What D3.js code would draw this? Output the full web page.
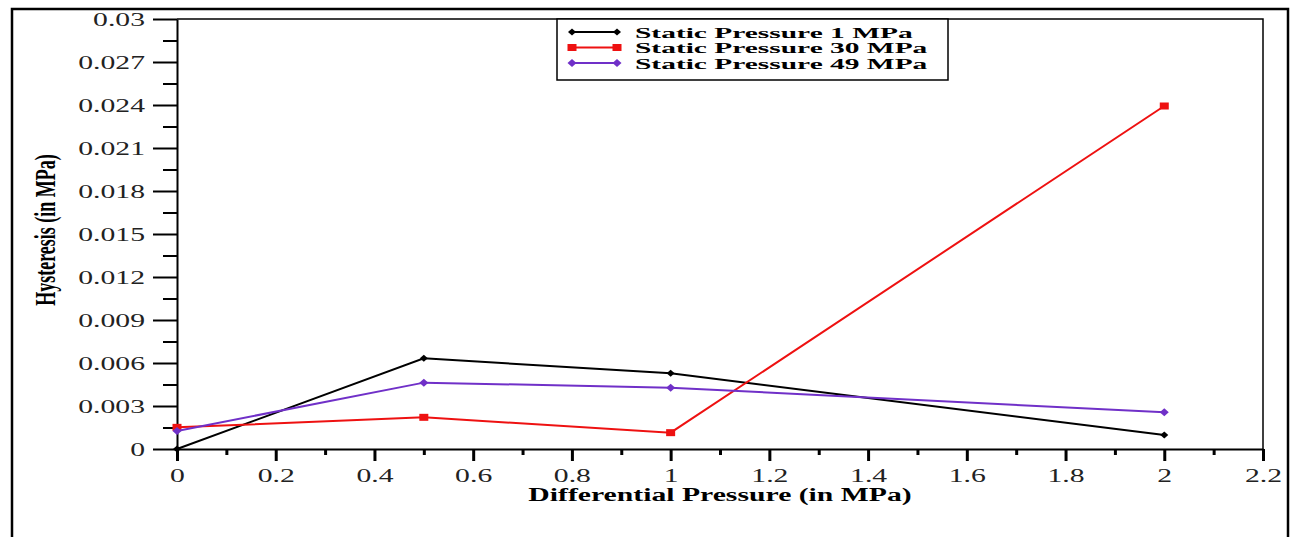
<!DOCTYPE html>
<html>
<head>
<meta charset="utf-8">
<script src="https://cdn.jsdelivr.net/npm/d3@7"></script>
<style>
  html, body { margin: 0; padding: 0; background: #fff; }
  svg { display: block; }
</style>
</head>
<body>
<svg id="chart" width="1296" height="537"></svg>
<script>
const width = 1296;
const height = 537;

// data
const diffPressure = [0, 0.5, 1, 2];
const static1 = [0, 0.00633, 0.00528, 0.00098];
const static30 = [0.00151, 0.00221, 0.00114, 0.02393];
const static49 = [0.00126, 0.00463, 0.00428, 0.00256];
const seriesNames = ["Static Pressure 1 MPa", "Static Pressure 30 MPa", "Static Pressure 49 MPa"];
const seriesColors = ["#000000", "#ee1111", "#7030c8"];
const xTicks = [0, 0.2, 0.4, 0.6, 0.8, 1, 1.2, 1.4, 1.6, 1.8, 2, 2.2];
const yTicks = [0, 0.003, 0.006, 0.009, 0.012, 0.015, 0.018, 0.021, 0.024, 0.027, 0.03];

// the source figure is stretched sideways, so text gets a horizontal scale
const stretch = 1.65;
const font = "'Liberation Serif', 'Times New Roman', serif";

const svg = d3.select("#chart");

const plot = { left: 177, right: 1263, top: 19, bottom: 449 };

const x = d3.scaleLinear().domain([0, 2.2]).range([plot.left, plot.right]);
const y = d3.scaleLinear().domain([0, 0.03]).range([plot.bottom, plot.top]);

// outer frame
svg.append("rect")
    .attr("x", 12).attr("y", 9)
    .attr("width", 1276).attr("height", 560)
    .attr("fill", "none")
    .attr("stroke", "#000")
    .attr("stroke-width", 2.5);

// top and right frame of the plot
svg.append("path")
    .attr("d", `M${plot.left},${plot.top}H${plot.right}V${plot.bottom}`)
    .attr("fill", "none")
    .attr("stroke", "#000")
    .attr("stroke-width", 1.5);

// y axis, minor then major ticks
const yMinor = d3.range(0.0015, 0.03, 0.003);
svg.append("g")
    .attr("transform", `translate(${plot.left},0)`)
    .call(d3.axisLeft(y).tickValues(yMinor).tickSize(14).tickFormat(""))
    .call(g => g.select(".domain").remove())
    .selectAll("line").attr("stroke-width", 2);

const yAxis = svg.append("g")
    .attr("transform", `translate(${plot.left},0)`)
    .call(d3.axisLeft(y).tickValues(yTicks).tickSize(24).tickSizeOuter(0)
        .tickFormat(d => d === 0 ? "0" : String(+d.toFixed(3))));
yAxis.select(".domain").attr("stroke-width", 2);
yAxis.selectAll("line").attr("stroke-width", 2);
yAxis.selectAll("text")
    .attr("font-family", font)
    .attr("font-size", 18)
    .attr("fill", "#222")
    .attr("x", -32 / stretch)
    .attr("dy", "0.34em")
    .attr("transform", `scale(${stretch},1)`);

// x axis, minor then major ticks
const xMinor = d3.range(0.1, 2.2, 0.2);
svg.append("g")
    .attr("transform", `translate(0,${plot.bottom})`)
    .call(d3.axisBottom(x).tickValues(xMinor).tickSize(6).tickFormat(""))
    .call(g => g.select(".domain").remove())
    .selectAll("line").attr("stroke-width", 3);

const xAxis = svg.append("g")
    .attr("transform", `translate(0,${plot.bottom})`)
    .call(d3.axisBottom(x).tickValues(xTicks).tickSize(12).tickSizeOuter(0)
        .tickFormat(d => String(+d.toFixed(1))));
xAxis.select(".domain").attr("stroke-width", 2);
xAxis.selectAll("line").attr("stroke-width", 3);
xAxis.selectAll("text")
    .attr("font-family", font)
    .attr("font-size", 18)
    .attr("fill", "#222")
    .attr("y", 27)
    .attr("dy", "0.34em")
    .attr("transform", `scale(${stretch},1)`);

// axis titles
svg.append("text")
    .attr("transform", `translate(${(plot.left + plot.right) / 2},501) scale(${stretch},1)`)
    .attr("text-anchor", "middle")
    .attr("font-family", font)
    .attr("font-weight", "bold")
    .attr("font-size", 18)
    .text("Differential Pressure (in MPa)");

svg.append("text")
    .attr("transform", `translate(55,230) rotate(-90) scale(1,${stretch})`)
    .attr("text-anchor", "middle")
    .attr("font-family", font)
    .attr("font-weight", "bold")
    .attr("font-size", 18)
    .text("Hysteresis (in MPa)");

// series
const series = [static1, static30, static49].map((vals, i) => ({
    name: seriesNames[i],
    color: seriesColors[i],
    points: vals.map((v, j) => [diffPressure[j], v])
}));

const line = d3.line().x(d => x(d[0])).y(d => y(d[1]));

function drawMarker(g, i, cx, cy, color) {
    if (i === 0) {
        g.append("path")
            .attr("d", `M${cx - 4},${cy}L${cx},${cy - 3.5}L${cx + 4},${cy}L${cx},${cy + 3.5}Z`)
            .attr("fill", color);
    } else if (i === 1) {
        g.append("rect")
            .attr("x", cx - 4.5).attr("y", cy - 3.5)
            .attr("width", 9).attr("height", 7)
            .attr("fill", color);
    } else {
        g.append("path")
            .attr("d", `M${cx - 4.5},${cy}L${cx},${cy - 4}L${cx + 4.5},${cy}L${cx},${cy + 4}Z`)
            .attr("fill", color);
    }
}

series.forEach((s, i) => {
    const g = svg.append("g");
    g.append("path")
        .datum(s.points)
        .attr("d", line)
        .attr("fill", "none")
        .attr("stroke", s.color)
        .attr("stroke-width", 2);
    s.points.forEach(p => drawMarker(g, i, x(p[0]), y(p[1]), s.color));
});

// legend
const legend = svg.append("g");
legend.append("rect")
    .attr("x", 557).attr("y", plot.top)
    .attr("width", 391).attr("height", 61)
    .attr("fill", "#fff")
    .attr("stroke", "#000")
    .attr("stroke-width", 1.5);

const legendStretch = 1.9;
series.forEach((s, i) => {
    const ly = 32 + i * 15.5;
    legend.append("line")
        .attr("x1", 571).attr("x2", 618)
        .attr("y1", ly).attr("y2", ly)
        .attr("stroke", s.color)
        .attr("stroke-width", 2);
    drawMarker(legend, i, 572, ly, s.color);
    drawMarker(legend, i, 617, ly, s.color);
    legend.append("text")
        .attr("transform", `translate(635,${ly + 5.5}) scale(${legendStretch},1)`)
        .attr("font-family", font)
        .attr("font-weight", "bold")
        .attr("font-size", 15.5)
        .text(s.name);
});
</script>
</body>
</html>
